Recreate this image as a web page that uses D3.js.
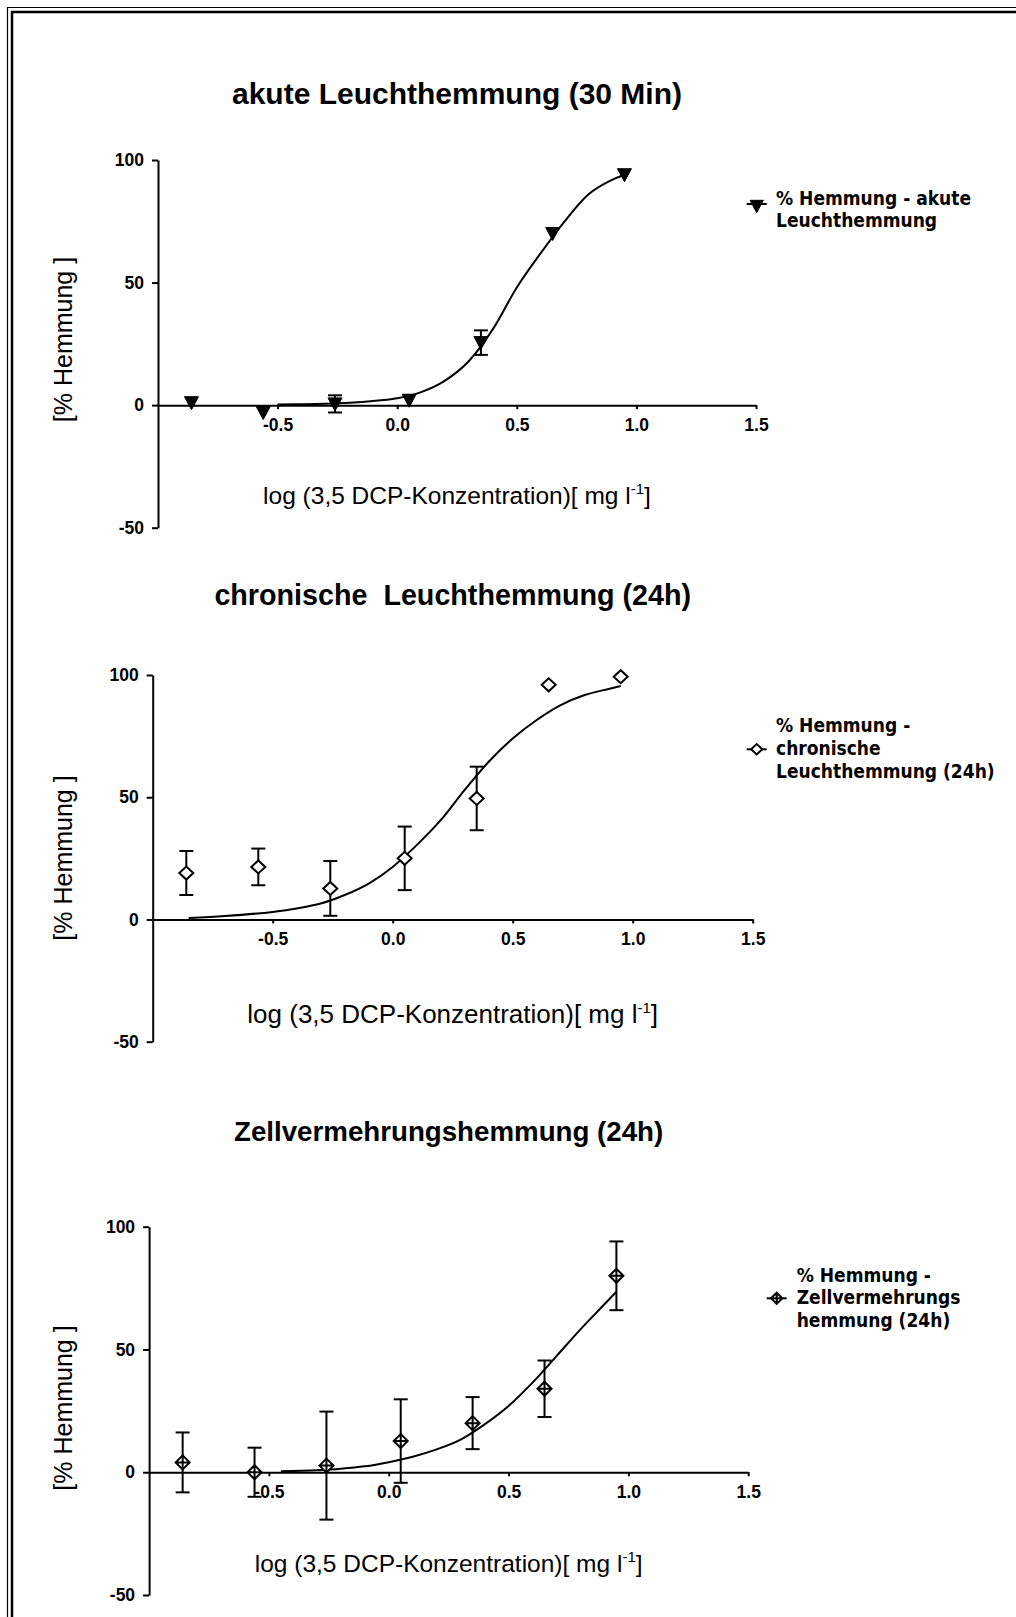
<!DOCTYPE html>
<html>
<head>
<meta charset="utf-8">
<script src="https://cdn.jsdelivr.net/npm/d3@7"></script>
<style>
  html, body { margin: 0; padding: 0; background: #fff; }
  svg { display: block; }
  .tick text { font-family: "Liberation Sans", Arial, sans-serif; font-weight: bold; font-size: 17.5px; fill: #000; }
  .title { font-family: "Liberation Sans", Arial, sans-serif; font-weight: bold; }
  .axis-label { font-family: "Liberation Sans", Arial, sans-serif; }
  .y-label { font-family: "Liberation Sans", Arial, sans-serif; font-size: 25px; }
  .legend-text { font-family: "DejaVu Sans Condensed", "DejaVu Sans", sans-serif; font-stretch: condensed; font-weight: bold; font-size: 19px; }
</style>
</head>
<body>
<svg id="chart" width="1016" height="1617"></svg>
<script>
// Dose-response data
const logConc = [-0.86, -0.56, -0.26, 0.05, 0.35, 0.65, 0.95];

const acuteMean = [1, -3, 0.5, 2, 25.5, 70, 94];
const acuteErr = [0, 0, 3.5, 0, 5, 0, 0];
const acuteCurveX = [-0.5, -0.4, -0.3, -0.2, -0.1, 0.0, 0.1, 0.2, 0.3, 0.4, 0.5, 0.6, 0.7, 0.8, 0.9, 0.95];
const acuteCurveY = [0.3, 0.4, 0.6, 1.0, 1.7, 2.8, 5.3, 10, 18, 31, 48, 62, 75, 86, 92, 94];

const chronicMean = [19, 21.5, 12.7, 25, 49.5, 96, 99.3];
const chronicErr = [9, 7.5, 11.2, 13, 13, 0, 0];
const chronicCurveX = [-0.85, -0.7, -0.5, -0.4, -0.3, -0.2, -0.1, 0.0, 0.1, 0.2, 0.3, 0.4, 0.5, 0.6, 0.7, 0.8, 0.9, 0.95];
const chronicCurveY = [0.6, 1.4, 3.1, 4.5, 6.5, 10, 14.7, 21.5, 30.4, 40.6, 53, 64.5, 74, 81.6, 87.7, 91.8, 94.3, 95.5];

const cellMean = [4, 0, 2.7, 12.7, 20, 34, 80];
const cellErr = [12.2, 10, 22, 17, 10.6, 11.5, 14];
const cellCurveX = [-0.45, -0.3, -0.2, -0.1, 0.0, 0.1, 0.2, 0.3, 0.4, 0.5, 0.6, 0.7, 0.8, 0.9, 0.95];
const cellCurveY = [0.4, 0.8, 1.4, 2.4, 4.1, 6.3, 9.3, 13.3, 19.5, 27, 36.5, 47.3, 58.2, 68.4, 73.5];

const xTicks = [-0.5, 0.0, 0.5, 1.0, 1.5];
const yTicks = [-50, 0, 50, 100];
const xDomain = [-1.0, 1.5];
const yDomain = [-50, 100];

const titles = ['akute Leuchthemmung (30 Min)', 'chronische  Leuchthemmung (24h)', 'Zellvermehrungshemmung (24h)'];
const legendLabels = [
  ['% Hemmung - akute', 'Leuchthemmung'],
  ['% Hemmung -', 'chronische', 'Leuchthemmung (24h)'],
  ['% Hemmung -', 'Zellvermehrungs', 'hemmung (24h)']
];
const yLabel = '[% Hemmung ]';

const svg = d3.select('#chart');

// double frame (top and left only, picture is cropped)
const frame = svg.append('g').attr('stroke', '#000').attr('fill', 'none');
frame.append('path').attr('d', 'M7.5,1617V7.5H1016').attr('stroke-width', 1.2);
frame.append('path').attr('d', 'M12,1617V12H1016').attr('stroke-width', 2.5);

const symbols = {
  triangle: 'M-7,-6L7,-6L0,7Z',
  diamond: 'M-7,0L0,-6.5L7,0L0,6.5Z',
  crossDiamond: 'M-7,0L0,-7L7,0L0,7Z M-7,0H7 M0,-7V7'
};

// plain hyphen for negative numbers, like the original
const fmtY = d => String(d);
const fmtX = d => d.toFixed(1);

function drawSymbol(g, type, x, y, scale) {
  g.append('path')
    .attr('d', symbols[type])
    .attr('transform', `translate(${x},${y}) scale(${scale})`)
    .attr('fill', type === 'triangle' ? '#000' : '#fff')
    .attr('stroke', '#000')
    .attr('stroke-width', type === 'triangle' ? 1 : 2 / scale);
}

const panels = [
  { mean: acuteMean, err: acuteErr, cx: acuteCurveX, cy: acuteCurveY, symbol: 'triangle',
    left: 158, right: 756, top: 160, bottom: 527.7, titleY: 104, titleSize: 30,
    xLabelY: 504, xLabelSize: 24.5, yLabelY: 339.5,
    legend: { mx: 756.7, my: 204, tx: 776, ty: 205, lh: 21.5, scale: 0.95 } },
  { mean: chronicMean, err: chronicErr, cx: chronicCurveX, cy: chronicCurveY, symbol: 'diamond',
    left: 152.7, right: 752.7, top: 675, bottom: 1041.7, titleY: 605, titleSize: 28.7,
    xLabelY: 1023, xLabelSize: 26, yLabelY: 858,
    legend: { mx: 756.7, my: 749.3, tx: 776, ty: 731.5, lh: 23.3, scale: 0.8 } },
  { mean: cellMean, err: cellErr, cx: cellCurveX, cy: cellCurveY, symbol: 'crossDiamond',
    left: 149.1, right: 748.2, top: 1226.7, bottom: 1595, titleY: 1141, titleSize: 27.7,
    xLabelY: 1572, xLabelSize: 24.5, yLabelY: 1408,
    legend: { mx: 776.7, my: 1298.3, tx: 796.7, ty: 1281.5, lh: 22.8, scale: 0.8 } }
];

panels.forEach((p, i) => {
  const g = svg.append('g');
  const x = d3.scaleLinear().domain(xDomain).range([p.left, p.right]);
  const y = d3.scaleLinear().domain(yDomain).range([p.bottom, p.top]);
  const midX = (p.left + p.right) / 2;

  // Title
  g.append('text')
    .attr('class', 'title')
    .attr('x', midX)
    .attr('y', p.titleY)
    .attr('text-anchor', 'middle')
    .style('font-size', p.titleSize + 'px')
    .style('white-space', 'pre')
    .text(titles[i]);

  // Axes
  const yAxis = g.append('g')
    .attr('transform', `translate(${p.left},0)`)
    .call(d3.axisLeft(y).tickValues(yTicks).tickSize(6).tickPadding(8).tickSizeOuter(0).tickFormat(fmtY));

  const xAxis = g.append('g')
    .attr('transform', `translate(0,${y(0)})`)
    .call(d3.axisBottom(x).tickValues(xTicks).tickSize(4).tickPadding(9).tickSizeOuter(0).tickFormat(fmtX));

  [xAxis, yAxis].forEach(a => {
    a.select('.domain').attr('stroke', '#000').attr('stroke-width', 2);
    a.selectAll('.tick line').attr('stroke', '#000').attr('stroke-width', 2);
  });

  // X label with superscript
  const xl = g.append('text')
    .attr('class', 'axis-label')
    .attr('x', midX)
    .attr('y', p.xLabelY)
    .attr('text-anchor', 'middle')
    .style('font-size', p.xLabelSize + 'px');
  xl.append('tspan').text('log (3,5 DCP-Konzentration)[ mg l');
  xl.append('tspan').attr('dy', -10).style('font-size', '15px').text('-1');
  xl.append('tspan').attr('dy', 10).text(']');

  // Y label
  g.append('text')
    .attr('class', 'y-label')
    .attr('transform', `translate(72,${p.yLabelY}) rotate(-90)`)
    .attr('text-anchor', 'middle')
    .text(yLabel);

  // Fitted curve
  const curvePts = p.cx.map((v, k) => [v, p.cy[k]]);
  g.append('path')
    .datum(curvePts)
    .attr('fill', 'none')
    .attr('stroke', '#000')
    .attr('stroke-width', 2)
    .attr('d', d3.line().x(d => x(d[0])).y(d => y(d[1])).curve(d3.curveMonotoneX));

  // Error bars
  const pts = logConc.map((v, k) => ({ x: v, m: p.mean[k], e: p.err[k] }));
  const eb = g.append('g').attr('stroke', '#000').attr('stroke-width', 2);
  pts.filter(d => d.e > 0).forEach(d => {
    const cxp = x(d.x);
    eb.append('line').attr('x1', cxp).attr('x2', cxp).attr('y1', y(d.m - d.e)).attr('y2', y(d.m + d.e));
    eb.append('line').attr('x1', cxp - 7).attr('x2', cxp + 7).attr('y1', y(d.m + d.e)).attr('y2', y(d.m + d.e));
    eb.append('line').attr('x1', cxp - 7).attr('x2', cxp + 7).attr('y1', y(d.m - d.e)).attr('y2', y(d.m - d.e));
  });

  // Markers
  pts.forEach(d => drawSymbol(g, p.symbol, x(d.x), y(d.m), 1));

  // Legend
  const L = p.legend;
  g.append('line')
    .attr('x1', L.mx - 10).attr('x2', L.mx + 10)
    .attr('y1', L.my).attr('y2', L.my)
    .attr('stroke', '#000').attr('stroke-width', 2);
  drawSymbol(g, p.symbol, L.mx, L.my + (p.symbol === 'triangle' ? 2 : 0), L.scale);
  legendLabels[i].forEach((t, k) => {
    g.append('text')
      .attr('class', 'legend-text')
      .attr('x', L.tx)
      .attr('y', L.ty + k * L.lh)
      .text(t);
  });
});
</script>
</body>
</html>
